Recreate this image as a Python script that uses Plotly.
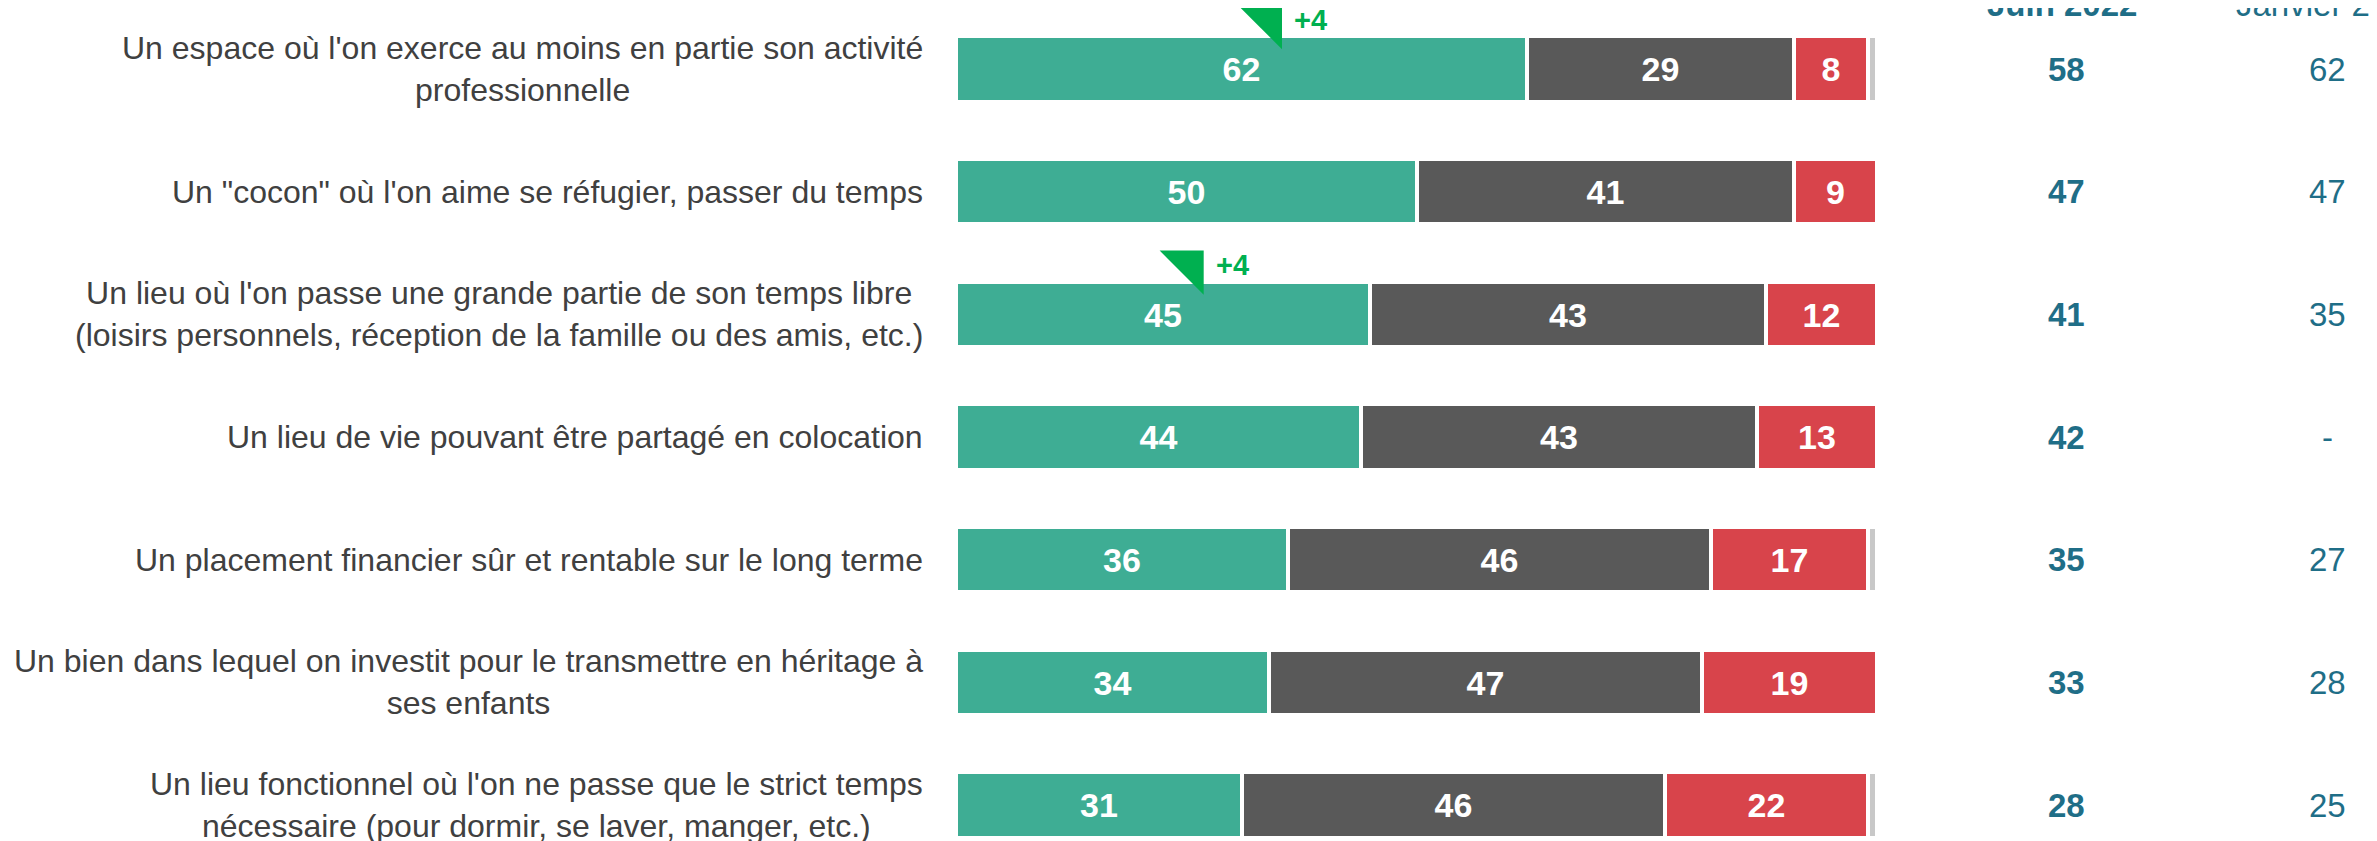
import plotly.graph_objects as go

W, H = 2377, 841
OFF = 8  # page body margin: figure is drawn 8px right/down of the window corner

# data
labels = [
    "Un espace où l'on exerce au moins en partie son activité<br>professionnelle",
    "Un \"cocon\" où l'on aime se réfugier, passer du temps",
    "Un lieu où l'on passe une grande partie de son temps libre<br>(loisirs personnels, réception de la famille ou des amis, etc.)",
    "Un lieu de vie pouvant être partagé en colocation",
    "Un placement financier sûr et rentable sur le long terme",
    "Un bien dans lequel on investit pour le transmettre en héritage à<br>ses enfants",
    "Un lieu fonctionnel où l'on ne passe que le strict temps<br>nécessaire (pour dormir, se laver, manger, etc.)",
]
oui = [62, 50, 45, 44, 36, 34, 31]
neutre = [29, 41, 43, 43, 46, 47, 46]
non = [8, 9, 12, 13, 17, 19, 22]
nsp = [1, 0, 0, 0, 1, 0, 1]
juin_2022 = ["58", "47", "41", "42", "35", "33", "28"]
janvier_2021 = ["62", "47", "35", "-", "27", "28", "25"]
evolution = ["+4", "", "+4", "", "", "", ""]

GREEN = "#3EAD94"
GREY = "#595959"
RED = "#D8444B"
LIGHT = "#C8C8C8"
TEAL = "#1F6E87"
ARROW = "#00B050"
FONT = "Liberation Sans, Arial, sans-serif"

ROW = 122.67  # px between rows
rows = list(range(len(labels)))

fig = go.Figure()
for vals, col, show in [(oui, GREEN, True), (neutre, GREY, True), (non, RED, True), (nsp, LIGHT, False)]:
    fig.add_trace(go.Bar(
        y=rows, x=vals, orientation="h",
        marker=dict(color=col, line=dict(color="white", width=4)),
        width=0.535,
        text=[str(v) for v in vals] if show else None,
        textposition="inside" if show else "none",
        insidetextanchor="middle",
        textfont=dict(family=FONT, size=34, color="white", weight="bold"),
        constraintext="none",
        hoverinfo="skip",
    ))

# evolution markers
ev_rows = [i for i in rows if evolution[i]]
ev_x = [oui[i] / 2 + 2.8 for i in ev_rows]
ev_y = [i - 0.40 for i in ev_rows]
fig.add_trace(go.Scatter(
    x=ev_x, y=ev_y,
    mode="markers",
    marker=dict(symbol="triangle-ne", size=49, color=ARROW, line=dict(width=0)),
    hoverinfo="skip", cliponaxis=False,
))

annotations = []
for k, i in enumerate(ev_rows):
    annotations.append(dict(
        x=ev_x[k], y=ev_y[k], xref="x", yref="y",
        text=f"<b>{evolution[i]}</b>", showarrow=False,
        xanchor="left", yanchor="middle", xshift=25,
        font=dict(family=FONT, size=29, color=ARROW),
    ))

for i, lab in enumerate(labels):
    annotations.append(dict(
        x=(925 - OFF) / W, y=i, xref="paper", yref="y",
        text=lab, showarrow=False, align="center",
        xanchor="right", yanchor="middle",
        font=dict(family=FONT, size=32, color="#404040"),
    ))
    annotations.append(dict(
        x=(2066 - OFF) / W, y=i, xref="paper", yref="y",
        text=f"<b>{juin_2022[i]}</b>", showarrow=False,
        xanchor="center", yanchor="middle",
        font=dict(family=FONT, size=33, color=TEAL),
    ))
    annotations.append(dict(
        x=(2327 - OFF) / W, y=i, xref="paper", yref="y",
        text=janvier_2021[i], showarrow=False,
        xanchor="center", yanchor="middle",
        font=dict(family=FONT, size=33, color=TEAL),
    ))

annotations.append(dict(
    x=(2062 - OFF) / W, y=1 + 4 / H, xref="paper", yref="paper",
    text="<b>Juin 2022</b>", showarrow=False,
    xanchor="center", yanchor="middle",
    font=dict(family=FONT, size=33, color=TEAL),
))
annotations.append(dict(
    x=(2330 - OFF) / W, y=1 + 4 / H, xref="paper", yref="paper",
    text="Janvier 2021", showarrow=False,
    xanchor="center", yanchor="middle",
    font=dict(family=FONT, size=33, color=TEAL),
))

fig.update_layout(
    width=W, height=H,
    barmode="stack", bargap=0,
    showlegend=False,
    plot_bgcolor="white", paper_bgcolor="white",
    margin=dict(l=0, r=0, t=0, b=0),
    xaxis=dict(domain=[(956 - OFF) / W, (1877 - OFF) / W], range=[0, 100],
               visible=False, fixedrange=True),
    yaxis=dict(range=[6 + (H - (805 - OFF)) / ROW, -(69 - OFF) / ROW],
               visible=False, fixedrange=True),
    annotations=annotations,
    font=dict(family=FONT),
)

fig.write_html("out.html")
